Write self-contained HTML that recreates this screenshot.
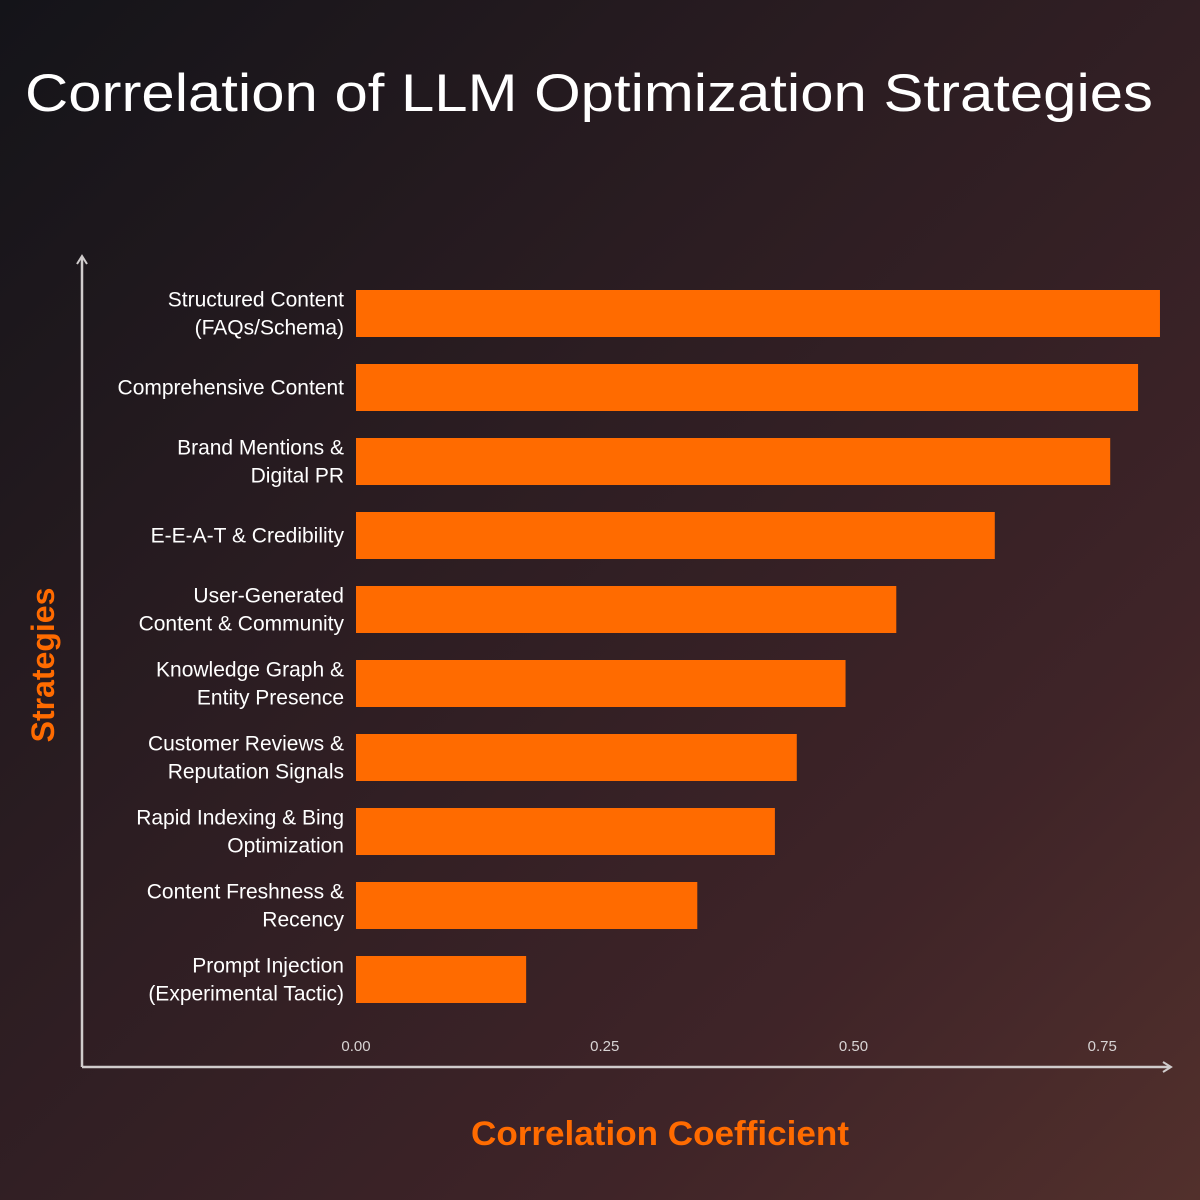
<!DOCTYPE html>
<html><head><meta charset="utf-8"><style>
html,body{margin:0;padding:0;width:1200px;height:1200px;overflow:hidden;background:#2a1d22}
svg{display:block}
</style></head><body>
<svg id="chart" width="1200" height="1200" xmlns="http://www.w3.org/2000/svg" font-family="Liberation Sans, sans-serif">
<defs>
<linearGradient id="bg" x1="0" y1="0" x2="1" y2="1">
<stop offset="0" stop-color="#141419"/>
<stop offset="0.4" stop-color="#2c1d22"/>
<stop offset="0.75" stop-color="#3f2428"/>
<stop offset="1" stop-color="#52302c"/>
</linearGradient>
</defs>
<rect width="1200" height="1200" fill="url(#bg)"/>
<text x="25" y="111" fill="#ffffff" font-size="53" textLength="1128" lengthAdjust="spacingAndGlyphs">Correlation of LLM Optimization Strategies</text>
<line x1="82" y1="1067" x2="82" y2="258" stroke="#d0cccc" stroke-width="2.5"/>
<polyline points="77,264 82,256 87,264" fill="none" stroke="#d0cccc" stroke-width="2"/>
<line x1="82" y1="1067" x2="1170" y2="1067" stroke="#d0cccc" stroke-width="2.5"/>
<polyline points="1163,1062 1171,1067 1163,1072" fill="none" stroke="#d0cccc" stroke-width="2"/>
<text transform="translate(54,665) rotate(-90)" text-anchor="middle" fill="#ff6b00" font-size="32" font-weight="bold">Strategies</text>
<text x="660" y="1145" text-anchor="middle" fill="#ff6b00" font-size="34" font-weight="bold" textLength="378" lengthAdjust="spacingAndGlyphs">Correlation Coefficient</text>
<g id="bars"></g>
<g id="ticks"></g>
</svg>
<script>
const categories = [
  ["Structured Content","(FAQs/Schema)"],
  ["Comprehensive Content"],
  ["Brand Mentions &","Digital PR"],
  ["E-E-A-T & Credibility"],
  ["User-Generated","Content & Community"],
  ["Knowledge Graph &","Entity Presence"],
  ["Customer Reviews &","Reputation Signals"],
  ["Rapid Indexing & Bing","Optimization"],
  ["Content Freshness &","Recency"],
  ["Prompt Injection","(Experimental Tactic)"]
];
const values = [0.808, 0.786, 0.758, 0.642, 0.543, 0.492, 0.443, 0.421, 0.343, 0.171];
const tickValues = [0, 0.25, 0.5, 0.75];
const tickLabels = ["0.00","0.25","0.50","0.75"];

const NS = "http://www.w3.org/2000/svg";
const x0 = 356, xScale = 995;
const xPos = v => x0 + v * xScale;
const yTop = 290, step = 74, barH = 47;
const yPos = i => yTop + i * step;

const bars = document.getElementById('bars');
values.forEach((v, i) => {
  const r = document.createElementNS(NS, 'rect');
  r.setAttribute('x', x0);
  r.setAttribute('y', yPos(i));
  r.setAttribute('width', xPos(v) - x0);
  r.setAttribute('height', barH);
  r.setAttribute('fill', '#ff6b00');
  
  
  bars.appendChild(r);
  const lines = categories[i];
  const cy = yPos(i) + barH / 2;
  const lh = 28;
  const t = document.createElementNS(NS, 'text');
  t.setAttribute('text-anchor', 'end');
  t.setAttribute('fill', '#ffffff');
  t.setAttribute('font-size', '21');
  
  
  lines.forEach((ln, k) => {
    const ts = document.createElementNS(NS, 'tspan');
    ts.setAttribute('x', 344);
    ts.setAttribute('y', cy + 7 + (k - (lines.length - 1) / 2) * lh);
    ts.textContent = ln;
    t.appendChild(ts);
  });
  bars.appendChild(t);
});
const ticks = document.getElementById('ticks');
tickValues.forEach((v, i) => {
  const t = document.createElementNS(NS, 'text');
  t.setAttribute('x', xPos(v));
  t.setAttribute('y', 1051);
  t.setAttribute('text-anchor', 'middle');
  t.setAttribute('fill', '#d8d4d4');
  t.setAttribute('font-size', '15');
  
  
  t.textContent = tickLabels[i];
  ticks.appendChild(t);
});
</script>
</body></html>
